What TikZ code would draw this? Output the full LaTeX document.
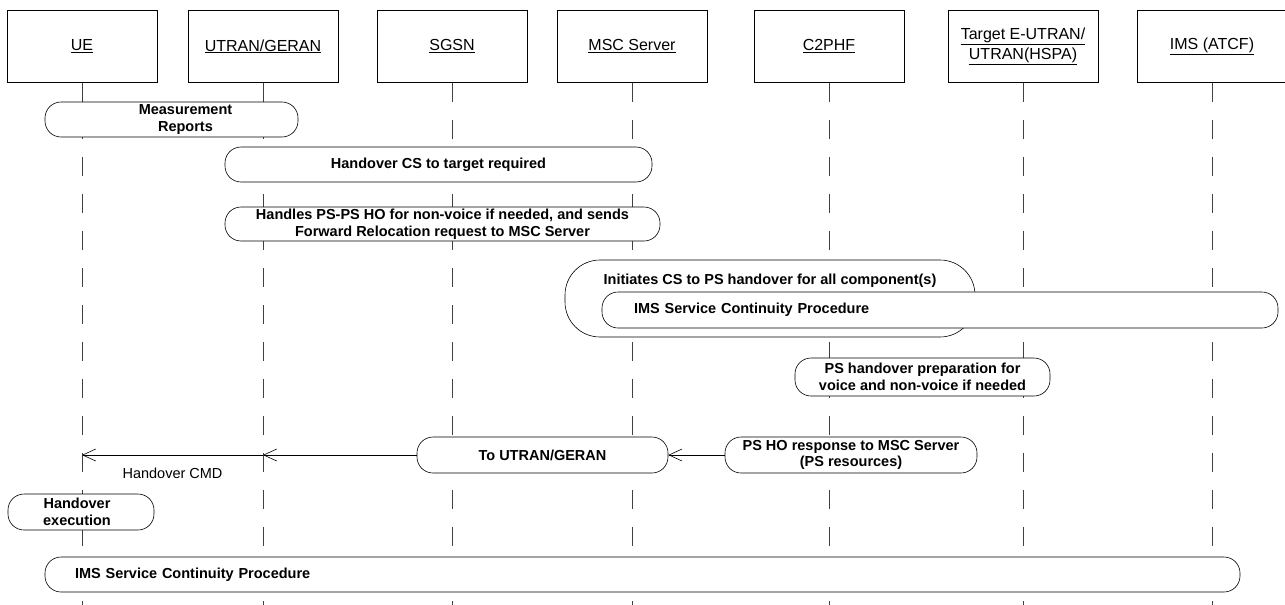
\documentclass[tikz,border=0pt]{standalone}
\usepackage{fontspec}
\setmainfont{Liberation Sans}
\usetikzlibrary{arrows.meta,positioning}

\begin{document}
\begin{tikzpicture}[
  x=1pt, y=-1pt,
  entity/.style={
    draw,
    line width=0.8pt,
    anchor=north,
    align=center,
    minimum width=150pt,
    minimum height=72pt,
    font=\fontsize{16}{20}\selectfont
  },
  lifeline/.style={
    draw=black!75,
    line width=0.7pt,
    dash pattern=on 19pt off 18pt
  },
  proc/.style={
    draw,
    fill=white,
    rounded corners=16pt,
    line width=0.6pt,
    align=center,
    inner sep=1pt,
    font=\bfseries\fontsize{14.5}{16.5}\selectfont
  },
  longproc/.style={
    proc,
    align=left,
    inner xsep=32pt
  },
  msg/.style={-{Straight Barb[length=13pt,width=12pt]}, line width=0.6pt}
]
\useasboundingbox (0,0) rectangle (1285,605);

% --- Entities ---
\node[entity] (ue) at (82,10) {\underline{UE}};
\node[entity] (utran) at (263,10) {\underline{UTRAN/GERAN}};
\node[entity] (sgsn) at (452,10) {\underline{SGSN}};
\node[entity] (msc) at (632,10) {\underline{MSC Server}};
\node[entity] (c2phf) at (829,10) {\underline{C2PHF}};
\node[entity] (target) at (1023,10) {\underline{Target E-UTRAN/}\\\underline{UTRAN(HSPA)}};
\node[entity] (ims) at (1212,10) {\underline{IMS (ATCF)}};

% --- Lifelines ---
\coordinate (bottom) at (0,605);
\draw[lifeline] (ue.south) -- (ue.south |- bottom);
\draw[lifeline] (utran.south) -- (utran.south |- bottom);
\draw[lifeline] (sgsn.south) -- (sgsn.south |- bottom);
\draw[lifeline] (msc.south) -- (msc.south |- bottom);
\draw[lifeline] (c2phf.south) -- (c2phf.south |- bottom);
\draw[lifeline] (target.south) -- (target.south |- bottom);
\draw[lifeline] (ims.south) -- (ims.south |- bottom);

% --- Procedures ---
\node[proc,minimum width=253pt,minimum height=35pt] (meas) at (171.5,119.5)
{\hspace*{28pt}Measurement\\\hspace*{28pt}Reports};

\node[proc,minimum width=427pt,minimum height=35pt] (hocs) at (438.5,164.5)
{Handover CS to target required};

\node[proc,minimum width=435pt,minimum height=34pt] (handles) at (442.5,224)
{Handles PS-PS HO for non-voice if needed, and sends\\Forward Relocation request to MSC Server};

\node[proc,rounded corners=35pt,minimum width=410pt,minimum height=77pt,text depth=38pt] (initiates) at (770,298.5)
{Initiates CS to PS handover for all component(s)};

\node[longproc,text width=612pt,minimum height=36pt] (imsa) at (940,310)
{IMS Service Continuity Procedure};

\node[proc,minimum width=255pt,minimum height=38pt] (psprep) at (922.5,377)
{PS handover preparation for\\voice and non-voice if needed};

\node[proc,minimum width=251pt,minimum height=36pt] (toutran) at (542.5,455)
{To UTRAN/GERAN};

\node[proc,minimum width=252pt,minimum height=36pt] (psresp) at (851,455)
{PS HO response to MSC Server\\(PS resources)};

\node[proc,minimum width=146pt,minimum height=36pt] (hoexec) at (81,512)
{Handover\hspace*{8pt}\\execution\hspace*{8pt}};

\node[longproc,inner xsep=30pt,text width=1135pt,minimum height=35pt] (imsb) at (642.5,574.5)
{IMS Service Continuity Procedure};

% --- Messages ---
\coordinate (cmdU) at (utran.south |- toutran.west);
\coordinate (cmdUE) at (ue.south |- toutran.west);
\draw[msg] (psresp.west) -- (toutran.east);
\draw[msg] (toutran.west) -- (cmdU);
\draw[msg] (cmdU) -- (cmdUE) node[midway,below=9pt,font=\fontsize{14.5}{17}\selectfont] (cmd) {Handover CMD};

\end{tikzpicture}
\end{document}
